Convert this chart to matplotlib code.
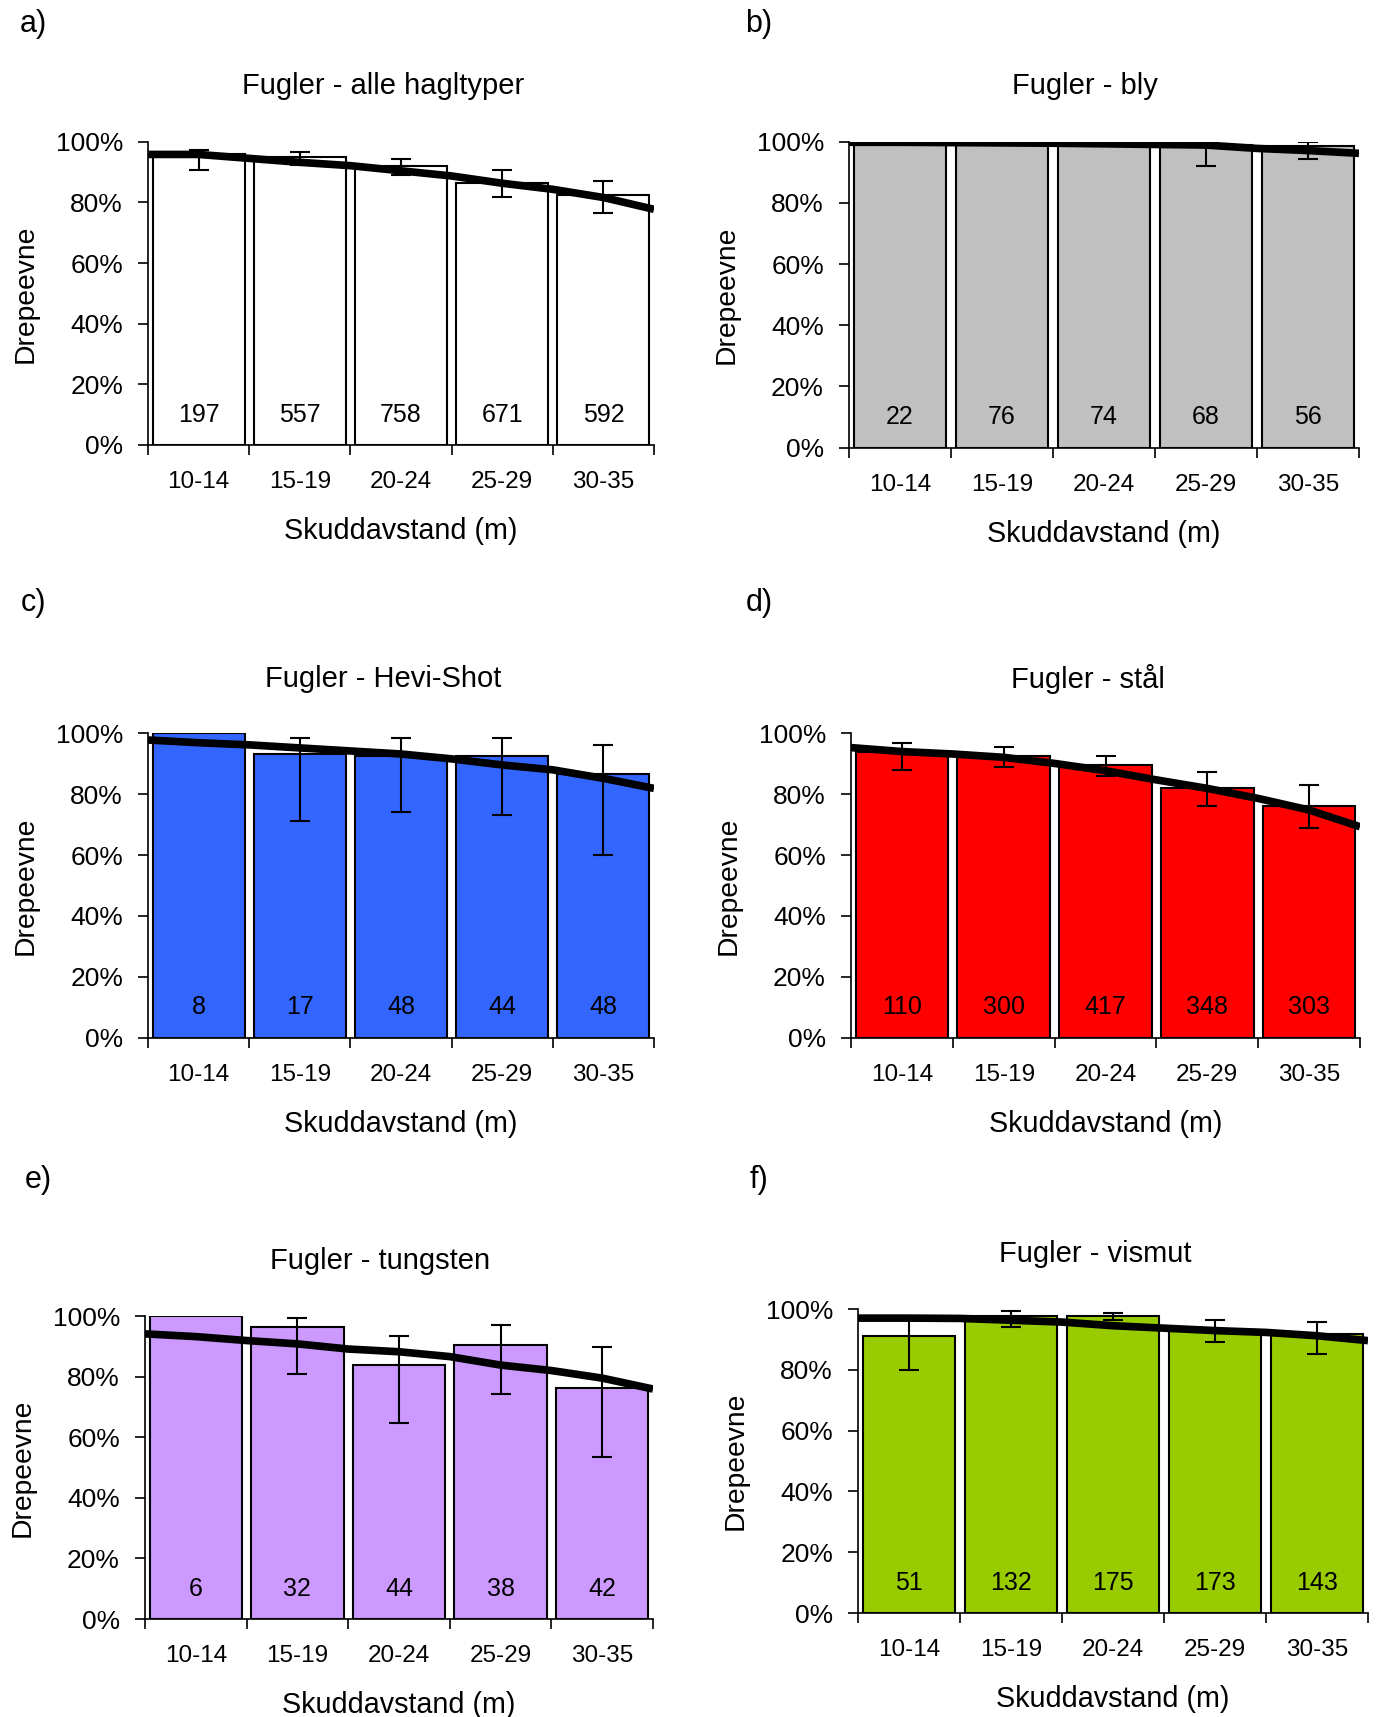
import matplotlib.pyplot as plt
import numpy as np
from matplotlib.ticker import PercentFormatter

plt.rcParams['font.family'] = ['Liberation Sans', 'DejaVu Sans']

cats = ['10-14', '15-19', '20-24', '25-29', '30-35']
nan = np.nan

# a) alle hagltyper
bars_a = [96.0, 95.1, 92.1, 86.3, 82.5]
n_a = [197, 557, 758, 671, 592]
lo_a = [90.7, 92.3, 89.1, 81.8, 76.6]
hi_a = [97.3, 96.6, 94.3, 90.7, 87.0]
line_a = [95.8, 95.8, 94.5, 93.2, 92.1, 90.4, 88.7, 86.3, 84.3, 81.6, 77.7]

# b) bly
bars_b = [99.8, 99.6, 99.5, 98.9, 98.5]
n_b = [22, 76, 74, 68, 56]
lo_b = [nan, nan, nan, 92.0, 94.3]
hi_b = [nan, nan, nan, 99.5, 100.0]
line_b = [99.8, 99.8, 99.7, 99.6, 99.5, 99.3, 99.1, 98.9, 97.8, 97.1, 96.2]

# c) Hevi-Shot
bars_c = [100.0, 93.3, 92.4, 92.4, 86.5]
n_c = [8, 17, 48, 44, 48]
lo_c = [nan, 71.2, 74.2, 73.3, 60.1]
hi_c = [nan, 98.4, 98.4, 98.4, 96.2]
line_c = [97.8, 96.9, 96.2, 95.2, 94.2, 93.2, 91.6, 89.6, 88.0, 85.2, 81.9]

# d) stål
bars_d = [94.0, 92.6, 89.5, 82.1, 76.1]
n_d = [110, 300, 417, 348, 303]
lo_d = [88.0, 88.8, 86.1, 76.2, 69.0]
hi_d = [96.9, 95.5, 92.6, 87.4, 83.0]
line_d = [95.3, 94.0, 93.2, 92.1, 90.1, 87.7, 84.7, 81.9, 78.6, 74.8, 69.3]

# e) tungsten
bars_e = [100.0, 96.3, 83.8, 90.4, 76.4]
n_e = [6, 32, 44, 38, 42]
lo_e = [nan, 80.8, 64.6, 74.3, 53.6]
hi_e = [nan, 99.2, 93.4, 96.9, 89.7]
line_e = [94.1, 93.2, 91.9, 90.8, 89.1, 88.2, 86.6, 83.8, 82.0, 79.5, 75.9]

# f) vismut
bars_f = [91.2, 97.8, 97.8, 93.2, 91.9]
n_f = [51, 132, 175, 173, 143]
lo_f = [80.0, 94.1, 96.5, 89.0, 85.3]
hi_f = [96.5, 99.5, 98.7, 96.5, 95.8]
line_f = [97.0, 97.0, 96.9, 96.3, 95.7, 94.5, 93.7, 92.9, 92.3, 91.2, 89.6]

W, H = 1380, 1717
fig = plt.figure(figsize=(W / 100, H / 100), dpi=100)

panels = [
    ('a)', 'Fugler - alle hagltyper', 'white', bars_a, n_a, lo_a, hi_a, line_a,
     (148, 654, 141.7, 445), (33, 24), (383, 86)),
    ('b)', 'Fugler - bly', '#C0C0C0', bars_b, n_b, lo_b, hi_b, line_b,
     (849, 1359, 141.7, 447.7), (759, 24), (1085, 86)),
    ('c)', 'Fugler - Hevi-Shot', '#3366FF', bars_c, n_c, lo_c, hi_c, line_c,
     (148, 654, 733.3, 1037.7), (33, 603), (383, 679)),
    ('d)', 'Fugler - stål', '#FF0000', bars_d, n_d, lo_d, hi_d, line_d,
     (851, 1360, 733.3, 1037.7), (759, 603), (1088, 679)),
    ('e)', 'Fugler - tungsten', '#CC99FF', bars_e, n_e, lo_e, hi_e, line_e,
     (145, 653, 1316, 1619), (38, 1180), (380, 1261)),
    ('f)', 'Fugler - vismut', '#99CC00', bars_f, n_f, lo_f, hi_f, line_f,
     (858, 1368, 1309, 1613), (759, 1180), (1095, 1254)),
]

x = np.arange(len(cats))
x_line = np.arange(-0.5, 4.51, 0.5)

for lab, title, color, bars, n, lo, hi, line, box, lpos, tpos in panels:
    x0, x1, yt, yb = box
    ax = fig.add_axes([x0 / W, 1 - yb / H, (x1 - x0) / W, (yb - yt) / H])
    vals = np.array(bars) / 100
    ax.bar(x, vals, width=0.91, color=color, edgecolor='black', linewidth=1.5, zorder=2)
    ax.plot(x_line, np.array(line) / 100, color='black', linewidth=5.5, zorder=3,
            solid_capstyle='butt')
    lo = np.array(lo) / 100
    hi = np.array(hi) / 100
    mid = (lo + hi) / 2
    ax.errorbar(x, mid, yerr=[mid - lo, hi - mid], fmt='none', ecolor='black',
                elinewidth=1.5, capsize=7, capthick=1.5, zorder=4)
    for i in range(len(cats)):
        ax.text(x[i], 0.10, str(n[i]), ha='center', va='center', fontsize=18, zorder=5)

    ax.set_xlim(-0.5, 4.5)
    ax.set_ylim(0, 1)
    ax.set_yticks(np.arange(0, 1.01, 0.2))
    ax.yaxis.set_major_formatter(PercentFormatter(1, decimals=0))
    ax.tick_params(axis='y', labelsize=19, length=7, width=1.2, pad=11)
    ax.set_xticks(np.arange(-0.5, 4.51, 1))
    ax.set_xticklabels([])
    ax.set_xticks(x, minor=True)
    ax.set_xticklabels(cats, minor=True)
    ax.tick_params(axis='x', which='major', length=7, width=1.2, direction='out')
    ax.tick_params(axis='x', which='minor', length=0, labelsize=17.5, pad=19)
    for s in ['top', 'right']:
        ax.spines[s].set_visible(False)
    for s in ['left', 'bottom']:
        ax.spines[s].set_linewidth(1.2)
    ax.set_xlabel('Skuddavstand (m)', fontsize=20.7, labelpad=17)
    ax.set_ylabel('Drepeevne', fontsize=20.3, labelpad=12)
    ax.set_facecolor('none')

    fig.text(lpos[0] / W, 1 - lpos[1] / H, lab, fontsize=22, ha='center', va='center')
    fig.text(tpos[0] / W, 1 - tpos[1] / H, title, fontsize=21, ha='center', va='center')

fig.savefig('out.png', dpi=100)
